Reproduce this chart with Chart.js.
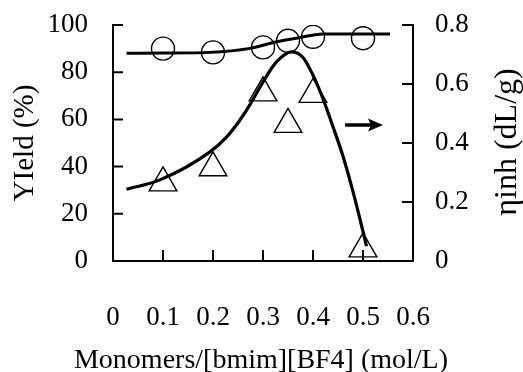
<!DOCTYPE html>
<html>
<head>
<meta charset="utf-8">
<script src="https://cdn.jsdelivr.net/npm/chart.js@4.4.1/dist/chart.umd.min.js"></script>
<style>
  html, body { margin: 0; padding: 0; background: #fff; }
</style>
</head>
<body>
<canvas id="chart" width="523" height="372"></canvas>
<script>
// valores
const concentrations = [0.1, 0.2, 0.3, 0.35, 0.4, 0.5];
const yieldValues = [90.0, 88.4, 90.5, 93.3, 95.0, 94.4];
const inhValues = [0.265, 0.316, 0.570, 0.463, 0.565, 0.041];

// curvas de tendência (pontos lidos ao longo das linhas)
const yieldCurveX = [0.027, 0.1, 0.194, 0.274, 0.327, 0.367, 0.42, 0.554];
const yieldCurveY = [88.0, 88.1, 88.4, 90.1, 92.9, 94.4, 96.2, 96.2];
const inhCurveX = [0.027, 0.094, 0.194, 0.227, 0.254, 0.274, 0.301, 0.327, 0.357, 0.38, 0.40, 0.42, 0.44, 0.46, 0.48, 0.50, 0.507];
const inhCurveY = [0.243, 0.275, 0.370, 0.420, 0.478, 0.530, 0.610, 0.675, 0.709, 0.690, 0.630, 0.550, 0.455, 0.355, 0.235, 0.100, 0.050];

const xTickLabels = ['0', '0.1', '0.2', '0.3', '0.4', '0.5', '0.6'];
const yieldTickLabels = ['0', '20', '40', '60', '80', '100'];
const inhTickLabels = ['0', '0.2', '0.4', '0.6', '0.8'];

const FONT = 'Liberation Serif';
const INK = '#000';

const toPoints = (xs, ys) => xs.map((x, i) => ({ x, y: ys[i] }));

// ticks para dentro, seta e títulos que o Chart.js não desenha do jeito certo
const decorPlugin = {
    id: 'decor',
    afterDatasetsDraw(chart) {
        const { ctx, chartArea: a, scales } = chart;
        ctx.save();
        ctx.strokeStyle = INK;
        ctx.lineWidth = 2;
        ctx.beginPath();
        scales.x.ticks.forEach(t => {
            if (t.value <= 0 || t.value >= 0.6) return;
            const px = scales.x.getPixelForValue(t.value);
            ctx.moveTo(px, a.bottom);
            ctx.lineTo(px, a.bottom - 11);
        });
        scales.y.ticks.forEach(t => {
            if (t.value === 0) return;
            const py = scales.y.getPixelForValue(t.value);
            ctx.moveTo(a.left, py);
            ctx.lineTo(a.left + 10, py);
        });
        scales.y2.ticks.forEach(t => {
            if (t.value === 0) return;
            const py = scales.y2.getPixelForValue(t.value);
            ctx.moveTo(a.right, py);
            ctx.lineTo(a.right - 11, py);
        });
        ctx.stroke();

        // seta indicando o eixo da direita
        const x0 = scales.x.getPixelForValue(0.464);
        const x1 = scales.x.getPixelForValue(0.54);
        const ya = scales.y2.getPixelForValue(0.461);
        ctx.lineWidth = 3.5;
        ctx.beginPath();
        ctx.moveTo(x0, ya);
        ctx.lineTo(x1 - 10, ya);
        ctx.stroke();
        ctx.fillStyle = INK;
        ctx.beginPath();
        ctx.moveTo(x1, ya);
        ctx.lineTo(x1 - 15, ya - 6.5);
        ctx.lineTo(x1 - 12, ya);
        ctx.lineTo(x1 - 15, ya + 6.5);
        ctx.closePath();
        ctx.fill();

        // título do eixo x (sem compressão de maxWidth)
        ctx.font = `28px "${FONT}"`;
        ctx.textAlign = 'center';
        ctx.textBaseline = 'alphabetic';
        ctx.fillText('Monomers/[bmim][BF4] (mol/L)', 261, 368);

        // título da direita, lido de baixo para cima
        ctx.translate(508, (a.top + a.bottom) / 2 - 1);
        ctx.rotate(-Math.PI / 2);
        ctx.font = `32px "${FONT}"`;
        ctx.textBaseline = 'middle';
        ctx.fillText('\u03b7inh (dL/g)', 0, 0);
        ctx.restore();
    }
};

// o padding dos ticks entra no paddingTop dos eixos verticais; zerar para controlar a área
const fitVertical = width => s => {
    s.width = width;
    s.paddingTop = 0;
    s.paddingBottom = 0;
};

new Chart(document.getElementById('chart'), {
    type: 'scatter',
    data: {
        datasets: [
            {
                label: 'Yield curve',
                data: toPoints(yieldCurveX, yieldCurveY),
                yAxisID: 'y',
                showLine: true,
                cubicInterpolationMode: 'monotone',
                borderColor: INK,
                borderWidth: 3,
                pointRadius: 0
            },
            {
                label: 'inh curve',
                data: toPoints(inhCurveX, inhCurveY),
                yAxisID: 'y2',
                showLine: true,
                cubicInterpolationMode: 'monotone',
                borderColor: INK,
                borderWidth: 3.2,
                pointRadius: 0
            },
            {
                label: 'Yield',
                data: toPoints(concentrations, yieldValues),
                yAxisID: 'y',
                pointStyle: 'circle',
                pointRadius: 11.5,
                borderWidth: 1.4,
                borderColor: INK,
                backgroundColor: 'rgba(0,0,0,0)'
            },
            {
                label: 'inh',
                data: toPoints(concentrations, inhValues),
                yAxisID: 'y2',
                pointStyle: 'triangle',
                pointRadius: 16,
                borderWidth: 1.4,
                borderColor: INK,
                backgroundColor: 'rgba(0,0,0,0)'
            }
        ]
    },
    options: {
        responsive: false,
        animation: false,
        layout: { padding: { top: 25 } },
        plugins: {
            legend: { display: false },
            tooltip: { enabled: false }
        },
        scales: {
            x: {
                type: 'linear',
                position: 'bottom',
                min: 0,
                max: 0.6,
                grid: { display: false, drawTicks: false },
                border: { display: true, color: INK, width: 2 },
                ticks: {
                    stepSize: 0.1,
                    padding: 41,
                    color: INK,
                    font: { family: FONT, size: 27 },
                    callback: (v, i) => xTickLabels[i]
                },
                afterFit: s => { s.height = 111; }
            },
            y: {
                type: 'linear',
                position: 'left',
                min: 0,
                max: 100,
                grid: { display: false, drawTicks: false },
                border: { display: true, color: INK, width: 2 },
                ticks: {
                    stepSize: 20,
                    padding: 25,
                    color: INK,
                    font: { family: FONT, size: 27 },
                    callback: (v, i) => yieldTickLabels[i]
                },
                title: {
                    display: true,
                    text: 'YIeld (%)',
                    color: INK,
                    font: { family: FONT, size: 29 },
                    padding: { top: 8, bottom: 0 }
                },
                afterFit: fitVertical(113)
            },
            y2: {
                type: 'linear',
                position: 'right',
                min: 0,
                max: 0.8,
                grid: { display: false, drawTicks: false },
                border: { display: true, color: INK, width: 2 },
                ticks: {
                    stepSize: 0.2,
                    padding: 22,
                    color: INK,
                    font: { family: FONT, size: 27 },
                    callback: (v, i) => inhTickLabels[i]
                },
                afterFit: fitVertical(110)
            }
        }
    },
    plugins: [decorPlugin]
});
</script>
</body>
</html>
